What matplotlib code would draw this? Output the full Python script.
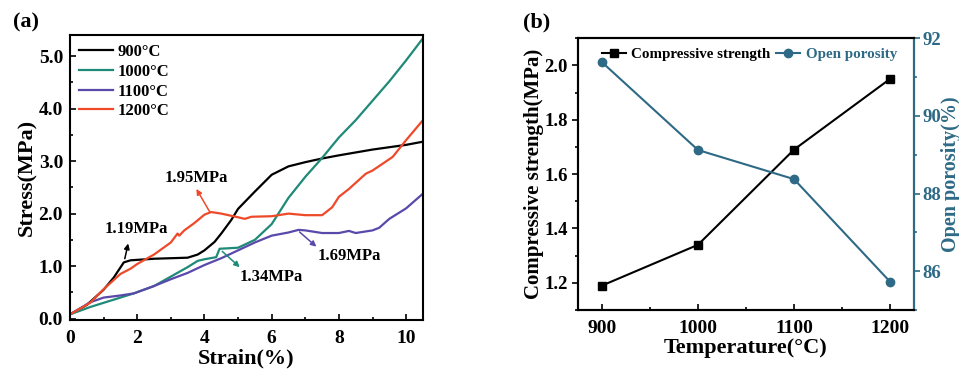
import matplotlib
matplotlib.use("Agg")
import matplotlib.pyplot as plt
from matplotlib.ticker import MultipleLocator, FormatStrFormatter

plt.rcParams['font.family'] = ['Liberation Serif', 'DejaVu Serif']
plt.rcParams['font.weight'] = 'bold'
plt.rcParams['axes.labelweight'] = 'bold'

# ---- panel (a) data: stress-strain curves ----
strain_900 = [0, 0.5, 1.0, 1.3, 1.6, 1.8, 2.5, 3.5, 3.8, 4.0, 4.3, 4.5, 4.8, 5.0, 5.5, 6.0, 6.5, 7.0, 7.5, 8.0, 9.0, 10.0, 10.5]
stress_900 = [0.08, 0.26, 0.55, 0.78, 1.07, 1.11, 1.14, 1.16, 1.22, 1.30, 1.46, 1.62, 1.88, 2.09, 2.42, 2.74, 2.90, 2.98, 3.05, 3.11, 3.22, 3.31, 3.37]

strain_1000 = [0, 0.6, 1.0, 1.9, 2.5, 3.0, 3.5, 3.8, 4.0, 4.35, 4.45, 5.0, 5.5, 6.0, 6.5, 7.0, 7.5, 8.0, 8.5, 9.0, 9.5, 10.0, 10.5]
stress_1000 = [0.08, 0.22, 0.30, 0.48, 0.62, 0.80, 0.98, 1.10, 1.13, 1.17, 1.33, 1.35, 1.50, 1.80, 2.30, 2.70, 3.06, 3.45, 3.78, 4.15, 4.52, 4.92, 5.34]

strain_1100 = [0, 0.6, 1.0, 1.5, 1.9, 2.5, 3.0, 3.5, 4.0, 4.5, 5.0, 5.5, 6.0, 6.5, 6.8, 7.0, 7.5, 8.0, 8.3, 8.5, 9.0, 9.2, 9.5, 10.0, 10.5]
stress_1100 = [0.08, 0.31, 0.40, 0.44, 0.48, 0.62, 0.75, 0.87, 1.02, 1.15, 1.30, 1.45, 1.58, 1.64, 1.69, 1.68, 1.63, 1.63, 1.67, 1.63, 1.68, 1.73, 1.90, 2.10, 2.38]

strain_1200 = [0, 0.6, 1.0, 1.5, 1.8, 2.0, 2.5, 3.0, 3.2, 3.25, 3.4, 3.7, 4.0, 4.2, 4.5, 5.0, 5.2, 5.4, 6.0, 6.5, 7.0, 7.5, 7.8, 8.0, 8.3, 8.8, 9.0, 9.6, 10.0, 10.5]
stress_1200 = [0.08, 0.30, 0.56, 0.85, 0.95, 1.04, 1.22, 1.45, 1.62, 1.58, 1.68, 1.82, 1.98, 2.03, 2.00, 1.93, 1.90, 1.94, 1.95, 2.00, 1.97, 1.97, 2.12, 2.32, 2.47, 2.76, 2.82, 3.08, 3.40, 3.78]

curve_labels = ['900\u00b0C', '1000\u00b0C', '1100\u00b0C', '1200\u00b0C']
curve_colors = ['#000000', '#1f8a78', '#5a48aa', '#ee4a2a']

# annotation labels and positions (strain, stress)
ann_texts = ['1.19MPa', '1.95MPa', '1.34MPa', '1.69MPa']
ann_text_xy = [(1.96, 1.70), (3.76, 2.67), (5.99, 0.80), (8.32, 1.20)]
ann_tail = [(1.63, 1.14), (4.16, 2.03), (4.53, 1.28), (6.83, 1.65)]
ann_head = [(1.73, 1.43), (3.76, 2.47), (5.05, 0.98), (7.33, 1.37)]
ann_colors = ['#000000', '#ee4a2a', '#1f8a78', '#5a48aa']

# ---- panel (b) data ----
temperature = [900, 1000, 1100, 1200]
comp_strength = [1.19, 1.34, 1.69, 1.95]
open_porosity = [91.38, 89.12, 88.37, 85.73]
por_color = '#2e6a86'

fig = plt.figure(figsize=(9.59, 3.74), dpi=100)

# ---------------- panel (a) ----------------
ax = fig.add_axes([0.073, 0.144, 0.368, 0.762])
data = [(strain_900, stress_900), (strain_1000, stress_1000), (strain_1100, stress_1100), (strain_1200, stress_1200)]
for (sx, sy), lab, c in zip(data, curve_labels, curve_colors):
    ax.plot(sx, sy, color=c, lw=1.6, label=lab)
ax.set_xlim(0, 10.5)
ax.set_ylim(-0.03, 5.4)
ax.xaxis.set_major_locator(MultipleLocator(2))
ax.xaxis.set_minor_locator(MultipleLocator(1))
ax.yaxis.set_major_locator(MultipleLocator(1))
ax.yaxis.set_minor_locator(MultipleLocator(0.5))
ax.yaxis.set_major_formatter(FormatStrFormatter('%.1f'))
ax.tick_params(which='both', direction='in', labelsize=14, width=1.2)
ax.tick_params(axis='x', which='both', pad=7)
ax.tick_params(axis='y', which='both', pad=5)
ax.tick_params(which='major', length=4)
ax.tick_params(which='minor', length=2.5)
for s in ax.spines.values():
    s.set_linewidth(1.5)
ax.set_xlabel('Strain(%)', fontsize=16, labelpad=1)
ax.set_ylabel('Stress(MPa)', fontsize=16, labelpad=1)
ax.legend(loc='upper left', frameon=False, fontsize=12, handlelength=2.0,
          borderaxespad=0.15, labelspacing=0.22, handletextpad=0.3)

for t, txy, tail, head, c in zip(ann_texts, ann_text_xy, ann_tail, ann_head, ann_colors):
    ax.annotate('', xy=head, xytext=tail,
                arrowprops=dict(arrowstyle='-|>', color=c, lw=1.1, mutation_scale=8,
                                shrinkA=0, shrinkB=0))
    ax.text(txy[0], txy[1], t, fontsize=12, fontweight='bold', ha='center', va='center')
fig.text(0.027, 0.94, '(a)', fontsize=16, fontweight='bold', ha='center', va='center')

# ---------------- panel (b) ----------------
bx = fig.add_axes([0.6027, 0.171, 0.3504, 0.727])
l1, = bx.plot(temperature, comp_strength, color='black', lw=1.5, marker='s', markersize=6,
              label='Compressive strength')
bx.set_xlim(875, 1225)
bx.set_ylim(1.1, 2.1)
bx.xaxis.set_major_locator(MultipleLocator(100))
bx.xaxis.set_minor_locator(MultipleLocator(50))
bx.yaxis.set_major_locator(MultipleLocator(0.2))
bx.yaxis.set_minor_locator(MultipleLocator(0.1))
bx.tick_params(axis='x', which='both', direction='in', labelsize=14, width=1.2, pad=7)
bx.tick_params(axis='y', which='both', direction='out', labelsize=13.5, width=1.2)
bx.tick_params(which='major', length=4)
bx.tick_params(which='minor', length=2.5)
bx.set_xlabel('Temperature(\u00b0C)', fontsize=16, labelpad=1)
bx.set_ylabel('Compressive strength(MPa)', fontsize=15)
bx.yaxis.set_label_coords(-0.1, 0.5)

tx = bx.twinx()
l2, = tx.plot(temperature, open_porosity, color=por_color, lw=1.5, marker='o', markersize=6,
              label='Open porosity')
tx.set_ylim(85, 92)
tx.yaxis.set_major_locator(MultipleLocator(2))
tx.yaxis.set_minor_locator(MultipleLocator(1))
tx.tick_params(axis='y', which='both', direction='out', labelsize=13.5, width=1.2,
               colors=por_color, pad=2)
tx.tick_params(which='major', length=4)
tx.tick_params(which='minor', length=2.5)
tx.set_ylabel('Open porosity(%)', fontsize=14.5, color=por_color)
tx.yaxis.set_label_coords(1.08, 0.5)
for s in bx.spines.values():
    s.set_linewidth(1.5)
for s in tx.spines.values():
    s.set_linewidth(1.5)
tx.spines['right'].set_color(por_color)

lg = bx.legend([l1, l2], ['Compressive strength', 'Open porosity'], loc='upper center',
               ncol=2, frameon=False, fontsize=10.8, handlelength=1.6, columnspacing=0.4,
               handletextpad=0.35, borderaxespad=0.25, bbox_to_anchor=(0.51, 1.0))
lg.get_texts()[1].set_color(por_color)
fig.text(0.56, 0.94, '(b)', fontsize=16, fontweight='bold', ha='center', va='center')

fig.savefig('out.png', dpi=100)
